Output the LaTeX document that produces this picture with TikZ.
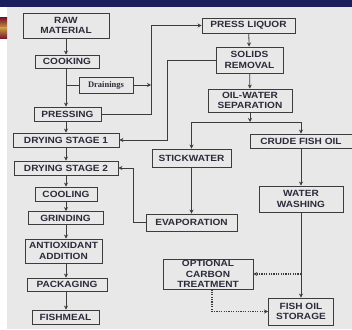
\documentclass[tikz,border=0pt]{standalone}
\usepackage{fontspec}
\setmainfont{Liberation Sans}
\newfontfamily\boxfont[FakeStretch=1.12]{Liberation Sans}
\newfontfamily\drainfont{Liberation Serif}
\usepackage{tikz}
\usetikzlibrary{arrows.meta}
\usetikzlibrary{positioning}

\definecolor{navy}{HTML}{1B1F5C}
\definecolor{bggray}{HTML}{E8E8E8}
\definecolor{boxline}{HTML}{3C3C3C}
\definecolor{boxtext}{HTML}{2B2B3A}
\definecolor{goldbar}{HTML}{C8963E}
\definecolor{maroonbar}{HTML}{7A1A2E}

\tikzset{
  box/.style={draw=boxline, line width=0.9pt, fill=bggray, inner sep=0pt,
    text=boxtext, align=center, font=\boxfont\bfseries\fontsize{9}{10.5}\selectfont},
  dots/.style={line width=1.2pt, dash pattern=on 1.2pt off 1.2pt}
}

\begin{document}
\begin{tikzpicture}[x=1pt,y=-1pt,->,>={Stealth[length=4pt,width=4pt]},line width=0.8pt,draw=boxline]
	\useasboundingbox (0,0) rectangle (352,329);
	\fill[white] (0,0) rectangle (352,329);
	\fill[bggray] (7,7) rectangle (352,329);
	\fill[navy] (0,0) rectangle (352,7);
	\shade[top color=maroonbar, bottom color=goldbar] (0,18) rectangle (7,28);
	\shade[top color=goldbar, bottom color=maroonbar] (0,28) rectangle (7,38);

	% fishmeal line
	\node[box, minimum width=86pt, minimum height=25pt] (raw) at (66,25.5) {RAW\\MATERIAL};
	\node[box, minimum width=64pt, minimum height=13pt] (cook) at (67,61.5) {COOKING};
	\node[box, minimum width=54pt, minimum height=16pt, font=\drainfont\bfseries\fontsize{8.5}{9}\selectfont] (drain) at (106,85) {Drainings};
	\node[box, minimum width=67pt, minimum height=14pt] (press) at (67.5,114) {PRESSING};
	\node[box, minimum width=106pt, minimum height=14pt] (dry1) at (66,140) {DRYING STAGE 1};
	\node[box, minimum width=104pt, minimum height=14pt] (dry2) at (66,168) {DRYING STAGE 2};
	\node[box, minimum width=62pt, minimum height=14pt] (cool) at (66,194) {COOLING};
	\node[box, minimum width=75pt, minimum height=13pt] (grind) at (65.5,218) {GRINDING};
	\node[box, minimum width=77pt, minimum height=24pt] (anti) at (63.5,251) {ANTIOXIDANT\\ADDITION};
	\node[box, minimum width=80pt, minimum height=13pt] (pack) at (67,284.5) {PACKAGING};
	\node[box, minimum width=67pt, minimum height=14pt] (fish) at (65.5,317) {FISHMEAL};

	% oil line
	\node[box, minimum width=93pt, minimum height=15pt] (liquor) at (248.5,25.5) {PRESS LIQUOR};
	\node[box, minimum width=67pt, minimum height=26pt] (solids) at (249.5,60) {SOLIDS\\REMOVAL};
	\node[box, minimum width=84pt, minimum height=23pt] (sep) at (250,100.5) {OIL-WATER\\SEPARATION};
	\node[box, minimum width=102pt, minimum height=14pt] (crude) at (301,141) {CRUDE FISH OIL};
	\node[box, minimum width=79pt, minimum height=18pt] (stick) at (191.5,158) {STICKWATER};
	\node[box, minimum width=91pt, minimum height=17pt] (evap) at (191.5,222.5) {EVAPORATION};
	\node[box, minimum width=84pt, minimum height=26pt] (wash) at (301,199) {WATER\\WASHING};
	\node[box, minimum width=90pt, minimum height=30pt] (carbon) at (208,274) {OPTIONAL\\CARBON\\TREATMENT};
	\node[box, minimum width=65pt, minimum height=27pt] (storage) at (301,311.5) {FISH OIL\\STORAGE};

	\coordinate (spine) at (66,0);
	\coordinate (jdrain) at (66,85);
	\coordinate (k1) at (151,25.5);
	\coordinate (k2) at (167,60);
	\coordinate (k3) at (133,168);
	\coordinate (split) at (250,122);

	\draw (raw.south -| spine) to (cook.north -| spine);
	\draw (cook.south -| spine) to (press.north -| spine);
	\draw (press.south -| spine) to (dry1.north -| spine);
	\draw (dry1.south -| spine) to (dry2.north -| spine);
	\draw (dry2.south -| spine) to (cool.north -| spine);
	\draw (cool.south -| spine) to (grind.north -| spine);
	\draw (grind.south -| spine) to (anti.north -| spine);
	\draw (anti.south -| spine) to (pack.north -| spine);
	\draw (pack.south -| spine) to (fish.north -| spine);

	\draw[-] (jdrain) to (drain.west);
	\draw (drain.east) to (drain.east -| k1);
	\draw (press.east) -| (k1) -- (liquor.west);
	\draw (liquor) to (solids);
	\draw (solids) to (sep);
	\draw (solids.west) -- (k2) |- (dry1.east);

	\draw (sep) to (split);
	\draw (split) -| (stick.north);
	\draw (split) -| (crude.north);
	\draw (stick) to (evap);
	\draw (evap.west) -| (k3) -- (dry2.east);
	\draw (crude) to (wash);
	\draw (wash) to (storage);

	\draw[dots] (carbon.east -| storage) -- (carbon.east);
	\draw[dots] ([xshift=4pt]carbon.south) |- (storage.west);
\end{tikzpicture}
\end{document}
